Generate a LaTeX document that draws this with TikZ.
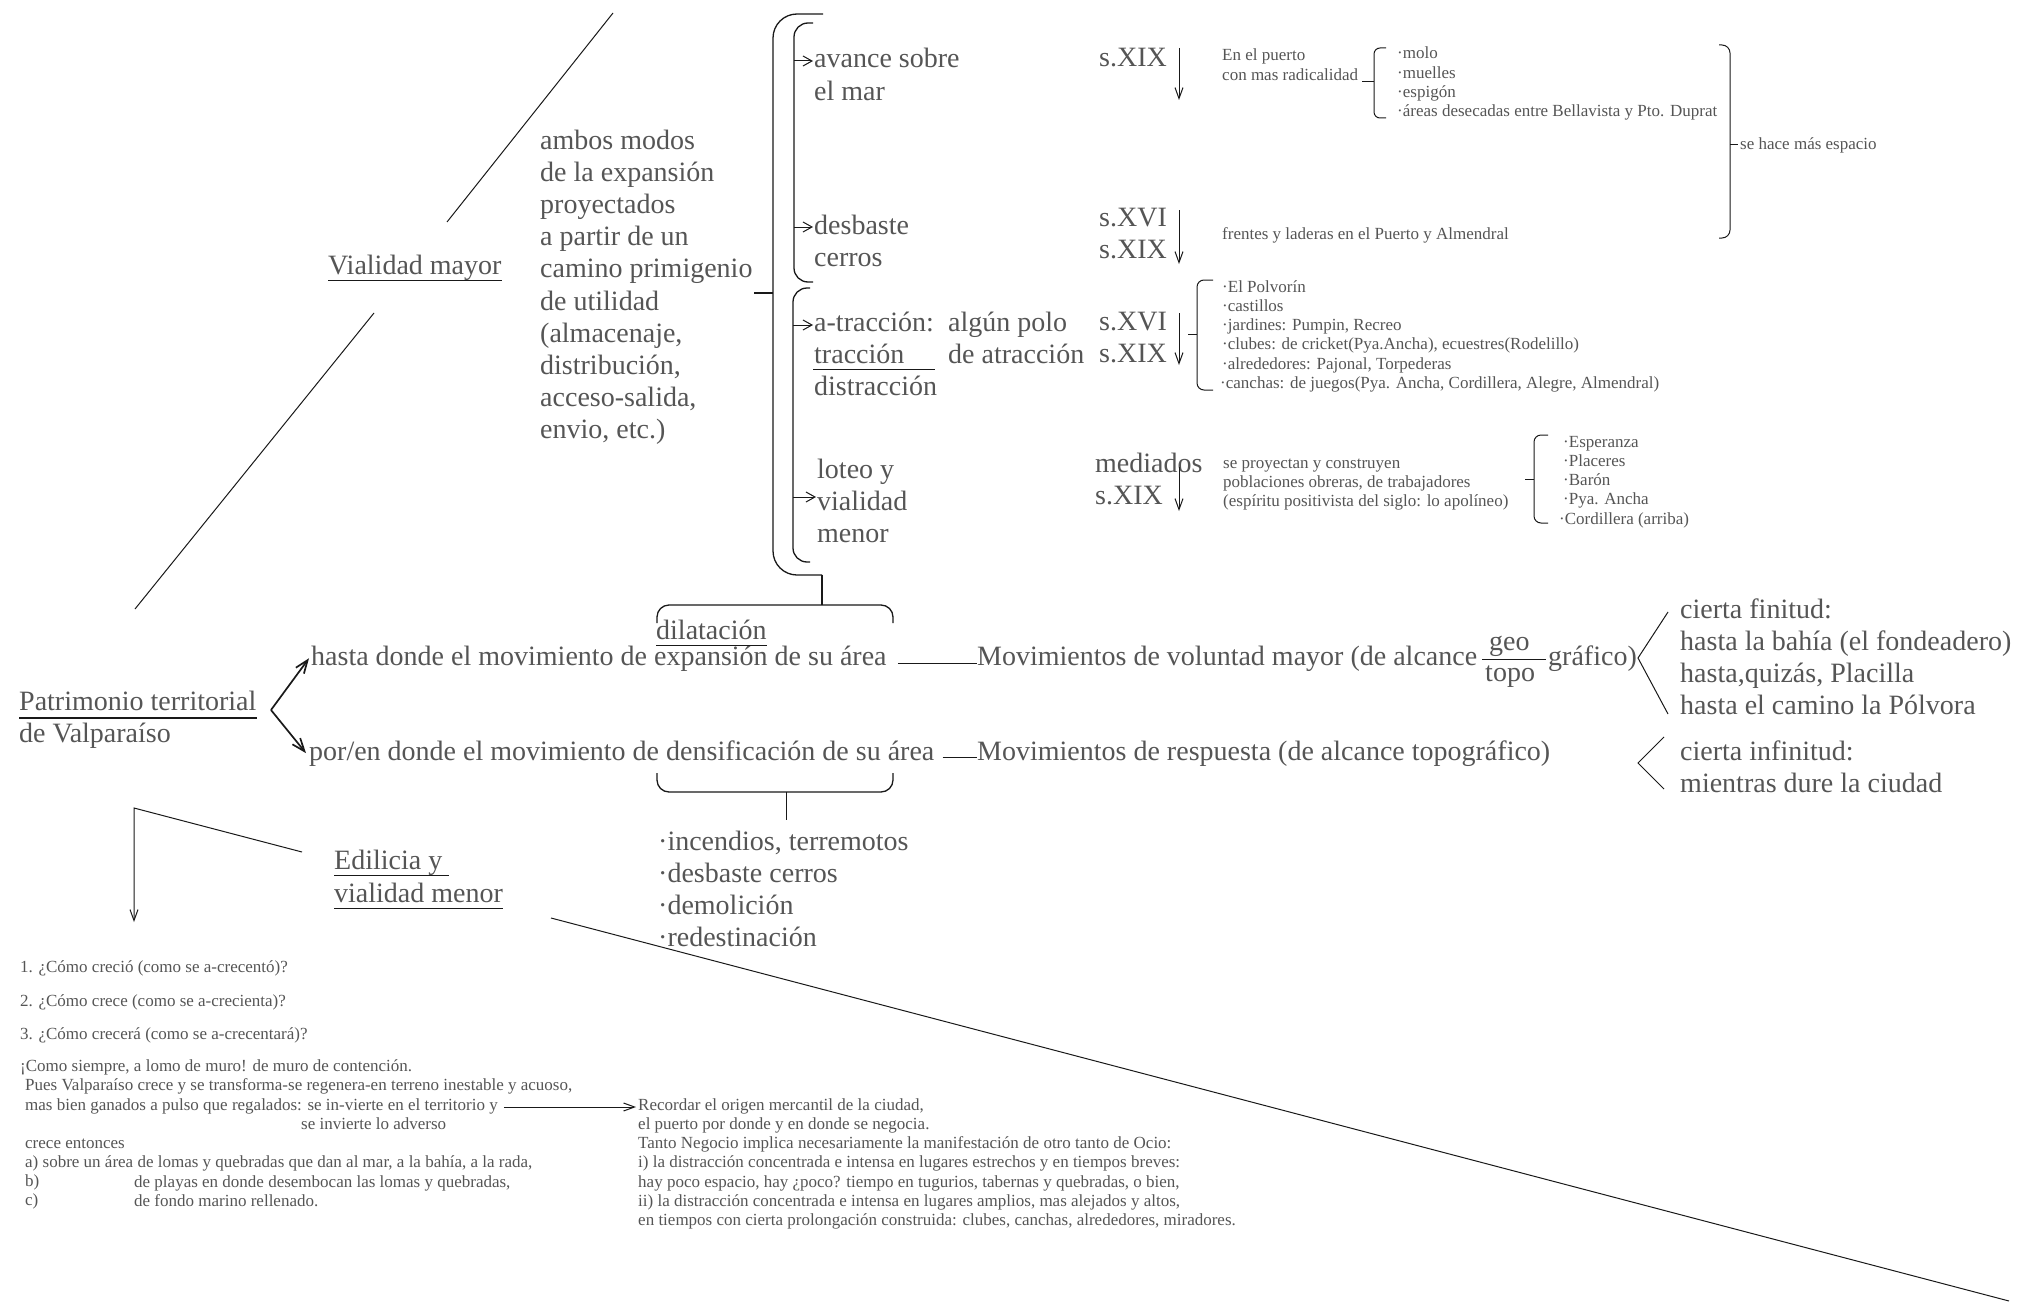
\documentclass[tikz,border=0pt]{standalone}
\usepackage{fontspec}
\setmainfont{Liberation Serif}
\usetikzlibrary{arrows.meta}
\definecolor{txt}{RGB}{85,85,85}
\definecolor{lc}{RGB}{25,25,25}
\begin{document}
\begin{tikzpicture}[x=1pt,y=-1pt,
  big/.style={font=\fontsize{28}{32.2}\selectfont, text=txt, inner sep=0pt, align=left, anchor=base west},
  sm/.style={font=\fontsize{17}{19.3}\selectfont, text=txt, inner sep=0pt, align=left, anchor=base west},
  ln/.style={draw=lc, line width=1pt},
  br/.style={draw=lc, line width=1.3pt},
  arr/.style={ln, -{Straight Barb[length=11pt,width=8pt]}},
  arrs/.style={ln, -{Straight Barb[length=9pt,width=10pt]}},
  arrb/.style={draw=lc, line width=1.7pt, -{Straight Barb[length=13pt,width=10pt]}},
]
\useasboundingbox (0,0) rectangle (2020,1308);
% note: for multi-line nodes the base anchor is the baseline of the LAST line

% ---------- decorative diagonals ----------
\draw[ln] (613,13) -- (447,222);
\draw[ln] (374,313) -- (135,609);
\draw[ln] (551,918) -- (2009,1301);

% ---------- Vialidad mayor ----------
\node[big] (vm) at (328,274) {Vialidad mayor};
\draw[ln] ([yshift=-6pt]vm.base west) -- ([yshift=-6pt]vm.base east);
\node[big] (ambos) at (540,438.8) {ambos modos\\de la expansión\\proyectados\\a partir de un\\camino primigenio\\de utilidad\\(almacenaje,\\distribución,\\acceso-salida,\\envio, etc.)};

% ---------- braces ----------
\draw[br, rounded corners=24pt] (823,14) -- (773,14) -- (773,575) -- (822,575);
\draw[br] (773,293) -- (754,293);
\draw[br, rounded corners=14pt] (813,23) -- (794,23) -- (794,282) -- (813,282);
\draw[br, rounded corners=14pt] (810,288) -- (793,288) -- (793,562) -- (810,562);
\draw[br] (822,575) -- (822,605);
\draw[br, rounded corners=12pt] (657,623) -- (657,605) -- (893,605) -- (893,623);

% ---------- second level ----------
\node[big] (avance) at (814,100.2) {avance sobre\\el mar};
\node[big] (desb) at (814,266.2) {desbaste\\cerros};
\node[big] (atr) at (814,395.4) {a-tracción:\\tracción\\distracción};
\draw[ln] (813,369) -- (935,369);
\node[big] (polo) at (948,363.2) {algún polo\\de atracción};
\node[big] (loteo) at (817,542.4) {loteo y\\vialidad\\menor};
\draw[arrs] (794,61) -- (813,61);
\draw[arrs] (794,227) -- (813,227);
\draw[arrs] (793,325) -- (813,325);
\draw[arrs] (793,497) -- (816,497);

% ---------- dates ----------
\node[big] (d1) at (1099,67) {s.XIX};
\node[big] (d2) at (1099,258.2) {s.XVI\\s.XIX};
\node[big] (d3) at (1099,362.2) {s.XVI\\s.XIX};
\node[big] (d4) at (1095,504.2) {mediados\\s.XIX};
\draw[arr] (1179,48) -- (1179,100);
\draw[arr] (1179,210) -- (1179,264);
\draw[arr] (1179,313) -- (1179,365);
\draw[arr] (1179,467) -- (1179,511);

% ---------- small texts top right ----------
\node[sm] (puerto) at (1222,80.3) {En el puerto\\con mas radicalidad};
\draw[ln] (1362,82) -- (1374,82);
\draw[ln, rounded corners=6pt] (1386,48) -- (1374,48) -- (1374,118) -- (1386,118);
\node[sm] (molo) at (1397,116.9) {·molo\\·muelles\\·espigón\\·áreas desecadas entre Bellavista y Pto. Duprat};
\draw[ln, rounded corners=8pt] (1719,45) -- (1730,45) -- (1730,238) -- (1719,238);
\draw[ln] (1730,145) -- (1738,145);
\node[sm] (espacio) at (1740,150) {se hace más espacio};
\node[sm] (frentes) at (1222,239) {frentes y laderas en el Puerto y Almendral};
\draw[ln] (1188,334) -- (1197,334);
\draw[ln, rounded corners=7pt] (1213,280) -- (1197,280) -- (1197,390) -- (1213,390);
\node[sm] (polv) at (1222,388.5) {·El Polvorín\\·castillos\\·jardines: Pumpin, Recreo\\·clubes: de cricket(Pya.Ancha), ecuestres(Rodelillo)\\·alrededores: Pajonal, Torpederas\\\hspace*{-2pt}·canchas: de juegos(Pya. Ancha, Cordillera, Alegre, Almendral)};
\node[sm] (proy) at (1223,506.6) {se proyectan y construyen\\poblaciones obreras, de trabajadores\\(espíritu positivista del siglo: lo apolíneo)};
\draw[ln] (1525,479) -- (1534,479);
\draw[ln, rounded corners=7pt] (1548,435) -- (1534,435) -- (1534,523) -- (1548,523);
\node[sm] (esp) at (1563,524.2) {·Esperanza\\·Placeres\\·Barón\\·Pya. Ancha\\\hspace*{-4pt}·Cordillera (arriba)};

% ---------- middle ----------
\node[big] (pat) at (19,710) {Patrimonio territorial};
\draw[ln, line width=1.3pt] ([yshift=-8pt]pat.base west) -- ([yshift=-8pt]pat.base east);
\node[big] (valp) at (19,742) {de Valparaíso};
\coordinate (fork) at (271,710);
\node[big] (hasta) at (311,665) {hasta donde el movimiento de expansión de su área};
\node[big] (poren) at (309,760) {por/en donde el movimiento de densificación de su área};
\draw[arrb] (fork) -- ([xshift=-2pt]hasta.west);
\draw[arrb] (fork) -- ([xshift=-3pt]poren.west);
\node[big] (dil) at (656,639) {dilatación};
\draw[ln] ([yshift=-6pt]dil.base west) -- ([yshift=-6pt]dil.base east);
\node[big] (mv1) at (977,665) {Movimientos de voluntad mayor (de alcance};
\draw[ln] ([shift={(11pt,2pt)}]hasta.base east) -- ([yshift=2pt]mv1.base west);
\node[big] (geo) at (1489,650) {geo};
\node[big] (topo) at (1485,681) {topo};
\draw[ln] (1482,659) -- (1546,659);
\node[big] (graf) at (1548,665) {gráfico)};
\draw[ln] (1668,612) -- (1638,658) -- (1668,714);
\node[big] (fin) at (1680,714.6) {cierta finitud:\\hasta la bahía (el fondeadero)\\hasta,quizás, Placilla\\hasta el camino la Pólvora};
\node[big] (mv2) at (977,760) {Movimientos de respuesta (de alcance topográfico)};
\draw[ln] ([shift={(8pt,3pt)}]poren.base east) -- ([yshift=3pt]mv2.base west);
\draw[ln] (1664,737) -- (1638,763) -- (1664,789);
\node[big] (inf) at (1680,792.2) {cierta infinitud:\\mientras dure la ciudad};
\draw[br, rounded corners=12pt] (657,773) -- (657,792) -- (893,792) -- (893,773);
\draw[ln] (786,792) -- (786,820);
\node[big] (inc) at (658,946.6) {·incendios, terremotos\\·desbaste cerros\\·demolición\\·redestinación};

% ---------- lower left ----------
\draw[arr] (302,852) -- (134,808) -- (134,922);
\node[big] (edi1) at (334,869) {Edilicia y};
\draw[ln] ([yshift=-6pt]edi1.base west) -- ([shift={(7pt,-6pt)}]edi1.base east);
\node[big] (edi2) at (334,902) {vialidad menor};
\draw[ln] ([yshift=-6pt]edi2.base west) -- ([yshift=-6pt]edi2.base east);

\node[sm] (q1) at (20,972) {1. ¿Cómo creció (como se a-crecentó)?};
\node[sm] (q2) at (20,1006) {2. ¿Cómo crece (como se a-crecienta)?};
\node[sm] (q3) at (20,1039) {3. ¿Cómo crecerá (como se a-crecentará)?};
\node[sm] (siempre) at (20,1090.3) {¡Como siempre, a lomo de muro! de muro de contención.\\\hspace*{5pt}Pues Valparaíso crece y se transforma-se regenera-en terreno inestable y acuoso,};
\node[sm] (masbien) at (25,1110) {mas bien ganados a pulso que regalados: se in-vierte en el territorio y};
\node[sm] (invierte) at (301,1129) {se invierte lo adverso};
\node[sm] (crece) at (25,1205.9) {crece entonces\\a) sobre un área de lomas y quebradas que dan al mar, a la bahía, a la rada,\\b)\\c)};
\node[sm] (playas) at (134,1206.3) {de playas en donde desembocan las lomas y quebradas,\\de fondo marino rellenado.};
\node[sm] (rec) at (638,1225.8) {Recordar el origen mercantil de la ciudad,\\el puerto por donde y en donde se negocia.\\Tanto Negocio implica necesariamente la manifestación de otro tanto de Ocio:\\i) la distracción concentrada e intensa en lugares estrechos y en tiempos breves:\\hay poco espacio, hay ¿poco? tiempo en tugurios, tabernas y quebradas, o bien,\\ii) la distracción concentrada e intensa en lugares amplios, mas alejados y altos,\\en tiempos con cierta prolongación construida: clubes, canchas, alrededores, miradores.};
\draw[arr] ([shift={(6pt,3pt)}]masbien.base east) -- (636,1107);
\end{tikzpicture}
\end{document}
